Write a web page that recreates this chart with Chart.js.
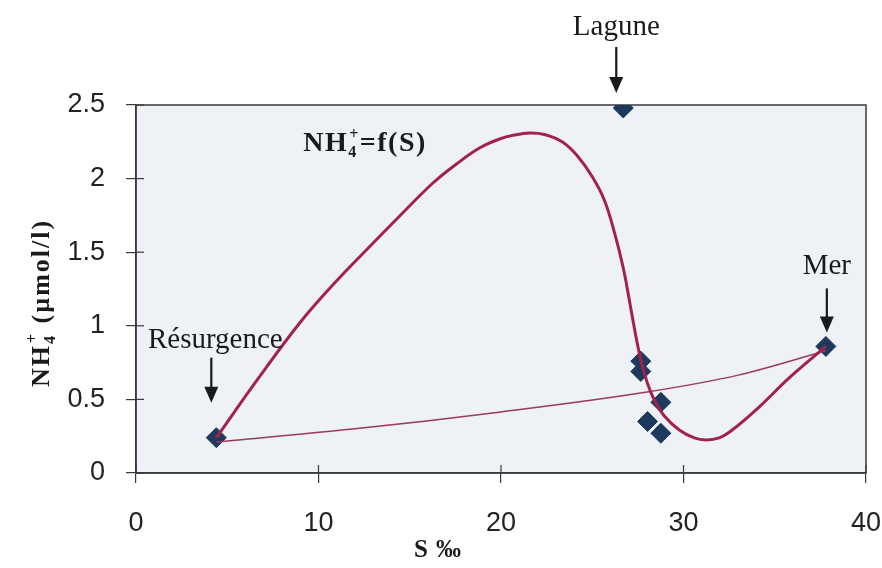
<!DOCTYPE html>
<html>
<head>
<meta charset="utf-8">
<script src="https://cdn.jsdelivr.net/npm/chart.js@4.4.1/dist/chart.umd.min.js"></script>
<style>
  html, body { margin: 0; padding: 0; background: #fff; }
  canvas { display: block; }
</style>
</head>
<body>
<canvas id="nh4Chart" width="882" height="568"></canvas>
<script>
// measured samples: salinity (S ‰) and NH4+ (µmol/l)
const salinity = [4.4, 26.7, 27.66, 27.66, 28.76, 28.03, 28.76, 37.8];
const nh4 = [0.24, 2.48, 0.76, 0.69, 0.48, 0.35, 0.27, 0.86];

// hand-drawn curve NH4+ = f(S)
const fitS = [4.4, 6.68, 8.97, 10.78, 12.62, 14.45, 16.27, 17.56, 18.82, 19.92, 20.74, 21.56, 22.38, 23.37, 24.19, 25.01,
              25.66, 26.21, 26.70, 27.08, 27.41, 27.69, 28.02, 28.40, 28.95, 29.77, 30.59, 31.24, 31.95, 32.67, 34.14, 35.79, 37.8];
const fitNH4 = [0.24, 0.639, 1.019, 1.277, 1.515, 1.746, 1.970, 2.099, 2.208, 2.269, 2.296, 2.310, 2.300, 2.249, 2.154, 2.011,
                1.855, 1.637, 1.393, 1.141, 0.917, 0.754, 0.611, 0.496, 0.387, 0.292, 0.238, 0.224, 0.238, 0.292, 0.448, 0.646, 0.86];

// thin mixing line Résurgence -> Mer
const mixS = [4.4, 12.0, 20.0, 28.0, 33.0, 37.8];
const mixNH4 = [0.21, 0.30, 0.415, 0.55, 0.665, 0.83];

const xTicks = [0, 10, 20, 30, 40];
const yTicks = [0, 0.5, 1, 1.5, 2, 2.5];

// labelled points (index into salinity/nh4)
const callouts = [
    { text: 'Lagune', idx: 1, dx: -7, tipGap: 15, len: 46, textGap: 12 },
    { text: 'Résurgence', idx: 0, dx: -5, tipGap: 35, len: 45, textGap: 10, textDx: 4 },
    { text: 'Mer', idx: 7, dx: 1, tipGap: 14, len: 44, textGap: 14 }
];

const toXY = (xs, ys) => xs.map((x, i) => ({ x: x, y: ys[i] }));

const SERIF = '"Liberation Serif", "DejaVu Serif", serif';

function drawRich(ctx, parts, x, y, spacing) {
    // parts: {t, size} or {sub, sup, size}
    ctx.letterSpacing = (spacing || 0) + 'px';
    let total = 0;
    parts.forEach(p => {
        ctx.font = 'bold ' + p.size + 'px ' + SERIF;
        if (p.t) p.w = ctx.measureText(p.t).width;
        else p.w = Math.max(ctx.measureText(p.sub).width, ctx.measureText(p.sup).width) + 1;
        total += p.w;
    });
    let cx = x - total / 2;
    ctx.textAlign = 'left';
    ctx.textBaseline = 'alphabetic';
    parts.forEach(p => {
        ctx.font = 'bold ' + p.size + 'px ' + SERIF;
        if (p.t) {
            ctx.fillText(p.t, cx, y);
        } else {
            ctx.fillText(p.sub, cx, y + p.size * 0.35);
            ctx.fillText(p.sup, cx + 1, y - p.size * 0.75);
        }
        cx += p.w;
    });
    ctx.letterSpacing = '0px';
}

const decorPlugin = {
    id: 'decor',
    beforeDraw(chart) {
        const { ctx, chartArea: a } = chart;
        ctx.save();
        ctx.fillStyle = '#eef2f7';
        ctx.fillRect(a.left, a.top, a.right - a.left, a.bottom - a.top);
        ctx.strokeStyle = '#3a3a3a';
        ctx.lineWidth = 1.5;
        ctx.strokeRect(a.left, a.top, a.right - a.left, a.bottom - a.top);
        ctx.restore();
    },
    afterDraw(chart) {
        const { ctx, chartArea: a } = chart;
        const xs = chart.scales.x, ys = chart.scales.y;
        ctx.save();
        // inner half of crossing tick marks
        ctx.strokeStyle = '#3a3a3a';
        ctx.lineWidth = 1.2;
        xTicks.forEach(v => {
            const px = xs.getPixelForValue(v);
            ctx.beginPath(); ctx.moveTo(px, a.bottom); ctx.lineTo(px, a.bottom - 8); ctx.stroke();
        });
        yTicks.forEach(v => {
            const py = ys.getPixelForValue(v);
            ctx.beginPath(); ctx.moveTo(a.left, py); ctx.lineTo(a.left + 8, py); ctx.stroke();
        });

        // callouts with arrows
        ctx.fillStyle = '#1a1a1a';
        ctx.strokeStyle = '#1a1a1a';
        callouts.forEach(c => {
            const px = xs.getPixelForValue(salinity[c.idx]) + c.dx;
            const tip = ys.getPixelForValue(nh4[c.idx]) - c.tipGap;
            const top = tip - c.len;
            ctx.lineWidth = 2.2;
            ctx.beginPath(); ctx.moveTo(px, top); ctx.lineTo(px, tip - 12); ctx.stroke();
            ctx.beginPath();
            ctx.moveTo(px - 7, tip - 16); ctx.lineTo(px + 7, tip - 16); ctx.lineTo(px, tip);
            ctx.closePath(); ctx.fill();
            ctx.font = '29px ' + SERIF;
            ctx.textAlign = 'center';
            ctx.textBaseline = 'alphabetic';
            ctx.fillText(c.text, px + (c.textDx || 0), top - c.textGap);
        });

        // formula label inside plot
        drawRich(ctx, [
            { t: 'NH', size: 28 },
            { sub: '4', sup: '+', size: 16 },
            { t: '=f(S)', size: 28 }
        ], 365, 151, 1.5);

        // axis titles
        drawRich(ctx, [{ t: 'S \u2030', size: 25 }], 438, 557, 1);
        ctx.translate(40, 303);
        ctx.rotate(-Math.PI / 2);
        drawRich(ctx, [
            { t: 'NH', size: 26 },
            { sub: '4', sup: '+', size: 16 },
            { t: ' (\u00b5mol/l)', size: 26 }
        ], 0, 9, 2);
        ctx.restore();
    }
};

const tickFont = { family: '"Liberation Sans", Arial, sans-serif', size: 27 };

new Chart(document.getElementById('nh4Chart'), {
    type: 'scatter',
    data: {
        datasets: [{
            label: 'NH4+=f(S)',
            data: toXY(fitS, fitNH4),
            showLine: true,
            borderColor: '#a3224b',
            borderWidth: 3,
            pointRadius: 0,
            tension: 0.4
        }, {
            label: 'mélange',
            data: toXY(mixS, mixNH4),
            showLine: true,
            borderColor: '#9c3a5c',
            borderWidth: 1.5,
            pointRadius: 0,
            cubicInterpolationMode: 'monotone'
        }, {
            label: 'NH4+',
            data: toXY(salinity, nh4),
            showLine: false,
            pointStyle: 'rectRot',
            pointRadius: 10,
            pointBackgroundColor: '#1d3a5e',
            pointBorderColor: '#1d3a5e',
            pointBorderWidth: 1
        }]
    },
    options: {
        responsive: false,
        animation: false,
        events: [],
        layout: {
            padding: { top: 105, right: 16, left: 0, bottom: 0 }
        },
        scales: {
            x: {
                type: 'linear',
                min: 0,
                max: 40,
                afterBuildTicks: s => { s.ticks = xTicks.map(v => ({ value: v })); },
                afterFit: s => { s.height = 95; s.paddingLeft = 0; s.paddingRight = 0; },
                border: { display: true, color: '#3a3a3a', width: 1.5 },
                grid: { drawOnChartArea: false, tickLength: 10, color: '#3a3a3a', lineWidth: 1.2 },
                ticks: { font: tickFont, color: '#222', padding: 24, maxRotation: 0, callback: v => String(v) }
            },
            y: {
                type: 'linear',
                min: 0,
                max: 2.5,
                afterBuildTicks: s => { s.ticks = yTicks.map(v => ({ value: v })); },
                afterFit: s => { s.width = 136; s.paddingTop = 0; s.paddingBottom = 0; },
                border: { display: true, color: '#3a3a3a', width: 1.5 },
                grid: { drawOnChartArea: false, tickLength: 10, color: '#3a3a3a', lineWidth: 1.2 },
                ticks: { font: tickFont, color: '#222', padding: 21, callback: v => String(v) }
            }
        },
        plugins: {
            legend: { display: false },
            tooltip: { enabled: false }
        }
    },
    plugins: [decorPlugin]
});
</script>
</body>
</html>
